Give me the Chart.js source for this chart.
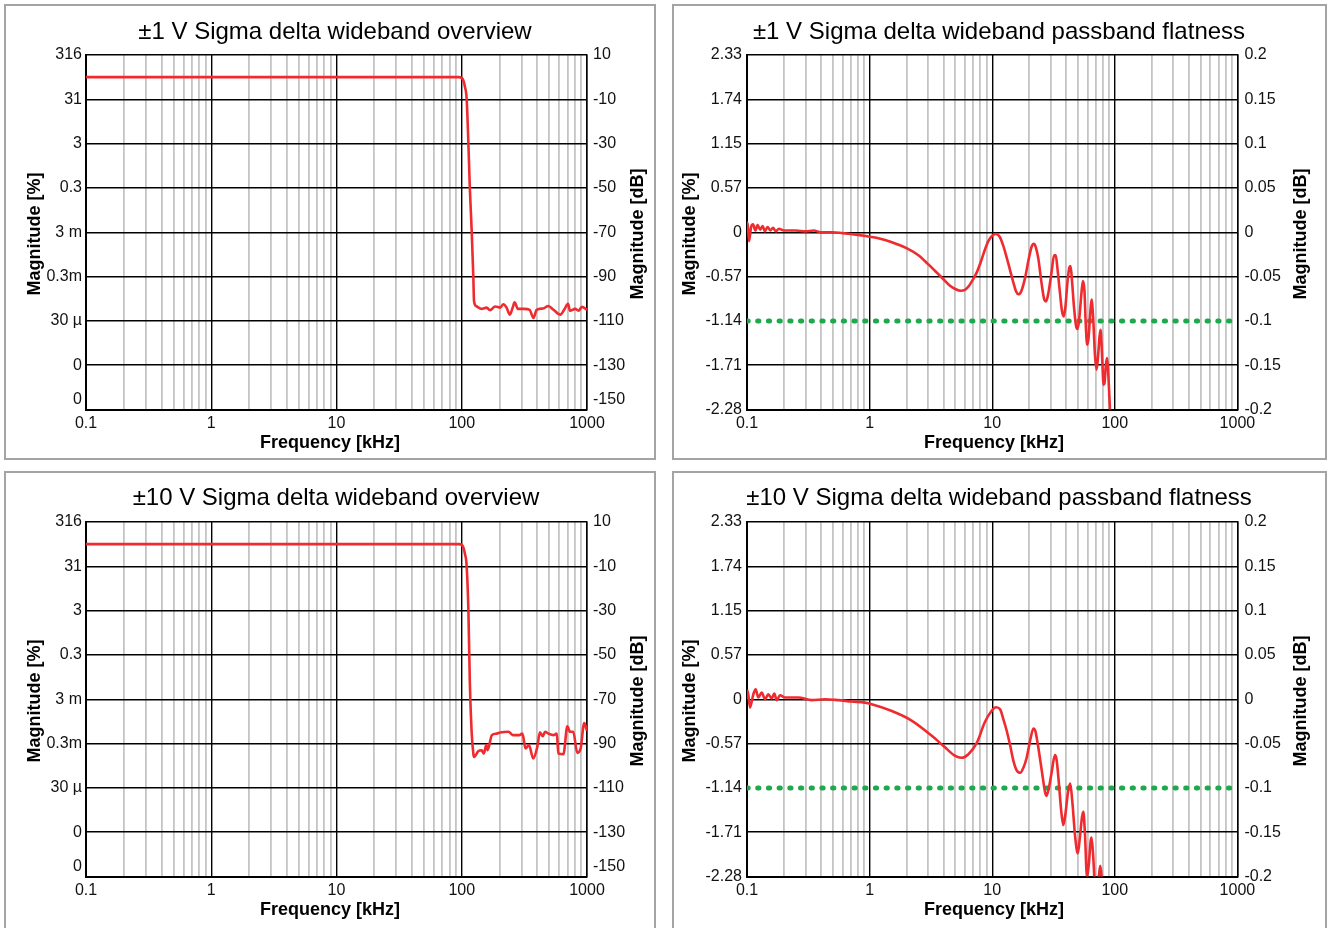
<!DOCTYPE html>
<html>
<head>
<meta charset="utf-8">
<script src="https://cdn.jsdelivr.net/npm/chart.js@4.4.1/dist/chart.umd.min.js"></script>
<style>
  html, body { margin: 0; padding: 0; background: #fff; }
  #wrap { position: relative; width: 1333px; height: 928px; overflow: hidden; }
  canvas { position: absolute; }
  .frame { position: absolute; border: 2px solid #a4a4a4; box-sizing: border-box; pointer-events: none; }
</style>
</head>
<body>
<div id="wrap">
  <canvas id="c1" width="665" height="467" style="left:0;top:0"></canvas>
  <canvas id="c2" width="668" height="467" style="left:665px;top:0"></canvas>
  <canvas id="c3" width="665" height="461" style="left:0;top:467px"></canvas>
  <canvas id="c4" width="668" height="461" style="left:665px;top:467px"></canvas>
  <div class="frame" style="left:4px;top:4px;width:652px;height:456px"></div>
  <div class="frame" style="left:672px;top:4px;width:655px;height:456px"></div>
  <div class="frame" style="left:4px;top:471px;width:652px;height:462px"></div>
  <div class="frame" style="left:672px;top:471px;width:655px;height:462px"></div>
</div>
<script>
// axis ticks
const freqDecades = [0.1, 1, 10, 100, 1000];
const overviewDbTicks = [10, -10, -30, -50, -70, -90, -110, -130, -150];
const overviewPctLabels = ["316", "31", "3", "0.3", "3 m", "0.3m", "30 µ", "0", "0"];
const flatDbTicks = [0.2, 0.15, 0.1, 0.05, 0, -0.05, -0.1, -0.15, -0.2];
const flatPctLabels = ["2.33", "1.74", "1.15", "0.57", "0", "-0.57", "-1.14", "-1.71", "-2.28"];

// ±1 V overview, frequency [kHz] / magnitude [dB]
const ov1Freq = [0.1, 1, 10, 50, 80, 95, 100, 103, 106, 109.5, 113, 116, 120, 123.7, 125.3,
  131, 144, 158, 168, 185, 203, 215, 228, 242, 256, 264, 281, 317, 348, 374, 396,
  447, 491, 540, 613, 657, 706, 731, 804, 856, 912, 1000];
const ov1Db = [0, 0, 0, 0, 0, 0, -0.3, -1.5, -4.3, -10, -30, -50, -69, -90, -101,
  -103.4, -104.6, -104, -105.2, -103.5, -104, -102.5, -104, -107.2, -103.7, -101.6, -104.6, -104.6, -105, -108.7, -105,
  -104.4, -103.3, -105, -107.2, -105, -102.3, -105.4, -104.6, -105.4, -103.7, -105];

// ±10 V overview
const ov10Freq = [0.1, 1, 10, 50, 80, 95, 100, 103, 106, 109.5, 113, 116, 120, 124, 125.3,
  136, 144, 150, 157, 161, 174, 190, 203, 236, 256, 288, 305, 323, 344, 372, 401,
  421, 443, 463, 491, 540, 574, 591, 648, 697, 731, 777, 836, 890, 950, 1000];
const ov10Db = [0, 0, 0, 0, 0, 0, -0.3, -1.5, -4.3, -10, -30, -62, -85, -95, -96,
  -93.4, -93, -94.5, -90.7, -93, -86.2, -85.5, -85, -84.7, -86.2, -86.2, -85.5, -92.2, -90.7, -96.7, -91.5,
  -84.9, -86.7, -84.7, -85.5, -86.2, -85.5, -94.5, -94.8, -82.2, -84.7, -84.7, -94.2, -92.2, -80.7, -84.2];

// ±1 V passband flatness
const fl1Freq = [0.1, 0.101, 0.104, 0.108, 0.112, 0.117, 0.122, 0.128, 0.134, 0.14, 0.147, 0.155, 0.163, 0.172, 0.182,
  0.2, 0.25, 0.3, 0.35, 0.4, 0.5, 0.6, 0.7, 0.8, 0.9, 1, 1.2, 1.5, 2, 2.5, 3, 3.5, 4, 4.5, 5, 5.5, 6, 6.5, 7, 7.5, 8,
  8.7, 9.3, 10, 10.7, 11.5, 12.3, 13.1, 14, 14.9, 15.7, 16.4, 17.2, 18.5, 20, 21, 21.8, 22.7, 23.8, 25.3, 26.6, 27.5,
  28.6, 30.5, 32, 33, 34, 35.5, 37, 38.3, 39.5, 41, 42.5, 43.5, 44.5, 46.5, 48.5, 49.8, 51.5, 53.5, 55, 56.5, 58,
  59.5, 61, 63, 64.6, 66.5, 69, 71, 73, 75, 76.5, 78.5, 81, 82.5, 84.5, 86.6, 88.5, 91, 93];
const fl1Db = [0, 0.011, -0.01, 0.006, 0.009, 0.002, 0.008, 0.003, 0.007, 0.001, 0.006, 0.002, 0.005, 0.001, 0.004,
  0.002, 0.002, 0.001, 0.002, 0, 0, -0.001, -0.002, -0.003, -0.004, -0.005, -0.007, -0.011, -0.018, -0.026, -0.036,
  -0.045, -0.053, -0.06, -0.064, -0.066, -0.065, -0.06, -0.053, -0.045, -0.035,
  -0.02, -0.01, -0.004, -0.002, -0.005, -0.015, -0.028, -0.043, -0.057, -0.067, -0.07, -0.067, -0.052, -0.028, -0.016,
  -0.013, -0.017, -0.03, -0.058, -0.076, -0.078, -0.07, -0.045, -0.026, -0.026, -0.04, -0.065, -0.088, -0.095, -0.085,
  -0.058, -0.04, -0.038, -0.05, -0.085, -0.107, -0.109, -0.095, -0.068, -0.055, -0.065, -0.105, -0.127, -0.12, -0.092,
  -0.076, -0.095, -0.14, -0.155, -0.14, -0.118, -0.11, -0.135, -0.172, -0.17, -0.15, -0.142, -0.16, -0.195, -0.23];

// ±10 V passband flatness
const fl10Freq = [0.1, 0.1013, 0.1058, 0.1126, 0.1177, 0.1237, 0.1318, 0.1403, 0.1492, 0.159, 0.167, 0.1747, 0.186,
  0.204, 0.262, 0.337, 0.432, 0.556, 0.714, 0.915, 1.04, 1.5, 2.2, 3.2, 4.1, 5, 5.6, 6.4, 7.5, 8.7, 9.9, 10.7, 11.6,
  12.3, 13.1, 14, 14.9, 15.8, 16.9, 18, 19.1, 20.5, 21.7, 22.5, 23.5, 25.4, 27, 27.7, 29, 30.5, 32.5, 33.5, 35, 36.5,
  38, 39.5, 41.5, 43.3, 45, 47.5, 49.9, 52, 54, 55.4, 57, 59.4, 61.5, 63.5, 64.6, 66.5, 70.4, 73, 76, 78, 80];
const fl10Db = [0, 0.0094, -0.0094, 0.0056, 0.0113, 0.0019, 0.0075, 0, 0.0056, 0.001, 0.0064, -0.001, 0.0045,
  0.002, 0.002, -0.001, 0, -0.001, -0.0026, -0.0038, -0.0056, -0.013, -0.024, -0.041, -0.054, -0.064, -0.066, -0.062,
  -0.049, -0.026, -0.013, -0.009, -0.0113, -0.022, -0.035, -0.052, -0.0695, -0.08, -0.083, -0.077, -0.066, -0.045,
  -0.033, -0.036, -0.05, -0.081, -0.105, -0.109, -0.1, -0.083, -0.063, -0.068, -0.095, -0.125, -0.142, -0.13, -0.105,
  -0.095, -0.115, -0.155, -0.174, -0.155, -0.133, -0.127, -0.15, -0.201, -0.185, -0.16, -0.156, -0.175, -0.23, -0.21,
  -0.188, -0.2, -0.24];

// -0.1 dB limit line on flatness plots
const limitFreq = [0.1, 1000];
const limitDb = [-0.1, -0.1];

const FONT = '"Liberation Sans", Arial, Helvetica, sans-serif';
const RED = "#ef2b2f";
const GREEN = "#1fa84c";

function gridFreqs() {
  const out = [];
  for (let i = 0; i < freqDecades.length - 1; i++) {
    for (let m = 1; m < 10; m++) out.push(+(freqDecades[i] * m).toPrecision(3));
  }
  out.push(freqDecades[freqDecades.length - 1]);
  return out;
}

function points(xs, ys) {
  return xs.map((x, i) => ({ x: x, y: ys[i] }));
}

// titles drawn by hand so the right title reads bottom-to-top like the original
const panelText = {
  id: "panelText",
  afterDraw(chart, args, o) {
    const ctx = chart.ctx;
    ctx.save();
    ctx.fillStyle = "#000";
    ctx.textAlign = "center";
    ctx.textBaseline = "middle";
    ctx.font = "24px " + FONT;
    ctx.fillText(o.title, o.titleX, o.titleY);
    ctx.font = "bold 18px " + FONT;
    ctx.fillText("Frequency [kHz]", o.xTitleX, o.xTitleY);
    [["Magnitude [%]", o.leftX], ["Magnitude [dB]", o.rightX]].forEach(function (t) {
      ctx.save();
      ctx.translate(t[1], o.yTitleY);
      ctx.rotate(-Math.PI / 2);
      ctx.fillText(t[0], 0, 0);
      ctx.restore();
    });
    ctx.restore();
  }
};

function makePanel(id, g, t, series, axis) {
  const dbTicks = axis.db;
  const sorted = dbTicks.slice().sort((a, b) => a - b);
  const yMin = sorted[0], yMax = sorted[sorted.length - 1];
  const tickFont = { family: FONT, size: 16 };
  const label = (arr) => (v) => {
    const s = arr[dbTicks.indexOf(v)];
    return (axis.liftBottom && v === yMin) ? [s, ""] : s;
  };

  new Chart(document.getElementById(id), {
    type: "line",
    data: { datasets: series },
    plugins: [panelText],
    options: {
      responsive: false,
      animation: false,
      events: [],
      layout: { padding: { top: g.T, left: 0, right: 0, bottom: 0 } },
      plugins: {
        legend: { display: false },
        tooltip: { enabled: false },
        panelText: t
      },
      scales: {
        x: {
          type: "logarithmic",
          min: freqDecades[0],
          max: freqDecades[freqDecades.length - 1],
          afterBuildTicks: (s) => { s.ticks = gridFreqs().map((v) => ({ value: v })); },
          afterFit: (s) => { s.height = g.H - g.B; },
          ticks: {
            autoSkip: false, maxRotation: 0, minRotation: 0, padding: 4,
            font: tickFont, color: "#111",
            callback: (v) => (freqDecades.includes(v) ? String(v) : "")
          },
          grid: {
            drawTicks: false,
            color: (c) => (freqDecades.includes(c.tick.value) ? "#000" : "#c4c4c4"),
            lineWidth: (c) => (freqDecades.includes(c.tick.value) ? 1.4 : 1.8)
          },
          border: { color: "#000", width: 2 }
        },
        y: {
          type: "linear", position: "left", min: yMin, max: yMax,
          afterBuildTicks: (s) => { s.ticks = sorted.map((v) => ({ value: v })); },
          afterFit: (s) => { s.width = g.L; },
          ticks: { padding: g.lp, font: tickFont, color: "#111", callback: label(axis.pct) },
          grid: {
            drawTicks: false, lineWidth: 1.4,
            // the dotted limit line replaces the grid line at its level
            color: (c) => (axis.hideAt !== undefined && c.tick.value === axis.hideAt ? "rgba(0,0,0,0)" : "#000")
          },
          border: { color: "#000", width: 2 }
        },
        y2: {
          type: "linear", position: "right", min: yMin, max: yMax,
          afterBuildTicks: (s) => { s.ticks = sorted.map((v) => ({ value: v })); },
          afterFit: (s) => { s.width = g.W - g.R; },
          ticks: { padding: g.rp, font: tickFont, color: "#111", callback: label(dbTicks.map(String)) },
          grid: { display: false, drawTicks: false },
          border: { color: "#000", width: 1.5 }
        }
      }
    }
  });
}

function redLine(xs, ys) {
  return {
    data: points(xs, ys), borderColor: RED, borderWidth: 2.6, pointRadius: 0,
    cubicInterpolationMode: "monotone", yAxisID: "y"
  };
}
function limitLine() {
  return {
    data: points(limitFreq, limitDb), borderColor: GREEN, borderWidth: 5, pointRadius: 0,
    borderDash: [1.2, 9.5], borderCapStyle: "round", yAxisID: "y"
  };
}

const gOv = { W: 665, L: 86, R: 587, T: 55, B: 409.5, lp: 4, rp: 6 };
const gFl = { W: 668, L: 82, R: 572.4, T: 55, B: 409.5, lp: 5, rp: 7 };
const overviewAxis = { db: overviewDbTicks, pct: overviewPctLabels, liftBottom: true };
const flatAxis = { db: flatDbTicks, pct: flatPctLabels, liftBottom: false, hideAt: limitDb[0] };

makePanel("c1", Object.assign({ H: 467 }, gOv),
  { title: "±1 V Sigma delta wideband overview", titleX: 335, titleY: 32, xTitleX: 330, xTitleY: 443, leftX: 35, rightX: 638, yTitleY: 234 },
  [redLine(ov1Freq, ov1Db)], overviewAxis);

makePanel("c2", Object.assign({ H: 467 }, gFl),
  { title: "±1 V Sigma delta wideband passband flatness", titleX: 334, titleY: 32, xTitleX: 329, xTitleY: 443, leftX: 25, rightX: 636.5, yTitleY: 234 },
  [redLine(fl1Freq, fl1Db), limitLine()], flatAxis);

makePanel("c3", Object.assign({ H: 461 }, gOv),
  { title: "±10 V Sigma delta wideband overview", titleX: 336, titleY: 31, xTitleX: 330, xTitleY: 443, leftX: 35, rightX: 638, yTitleY: 234 },
  [redLine(ov10Freq, ov10Db)], overviewAxis);

makePanel("c4", Object.assign({ H: 461 }, gFl),
  { title: "±10 V Sigma delta wideband passband flatness", titleX: 334, titleY: 31, xTitleX: 329, xTitleY: 443, leftX: 25, rightX: 636.5, yTitleY: 234 },
  [redLine(fl10Freq, fl10Db), limitLine()], flatAxis);
</script>
</body>
</html>
